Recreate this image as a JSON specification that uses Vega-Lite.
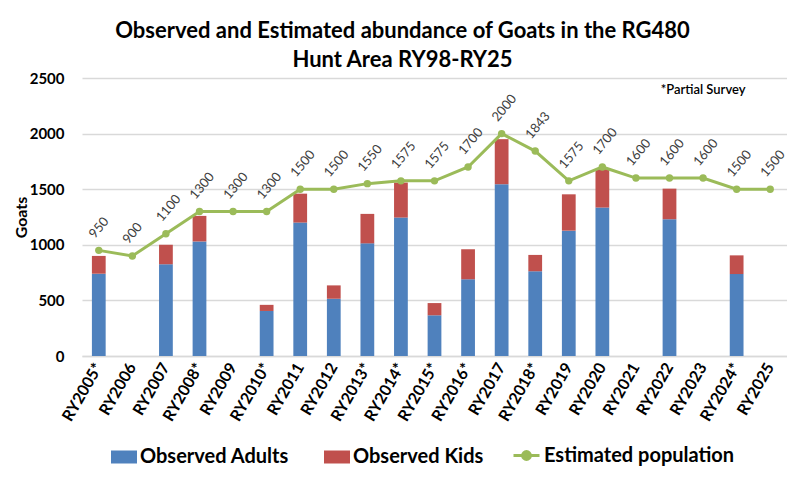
{
  "$schema": "https://vega.github.io/schema/vega-lite/v6.json",
  "width": 705,
  "height": 278,
  "autosize": {"type": "none"},
  "padding": {"left": 82, "top": 78, "right": 0, "bottom": 126},
  "background": "white",
  "config": {
    "font": "Lato",
    "view": {"stroke": null}
  },
  "title": {
    "text": ["Observed and Estimated abundance of Goats in the RG480", "Hunt Area RY98-RY25"],
    "font": "Lato",
    "fontSize": 22,
    "fontWeight": "bold",
    "color": "#000000",
    "lineHeight": 29,
    "anchor": "middle",
    "dx": -32,
    "dy": 6,
    "offset": 5
  },
  "data": {
    "values": [
      {"year": "RY2005*", "Observed Adults": 740, "Observed Kids": 160, "est": 950},
      {"year": "RY2006", "Observed Adults": null, "Observed Kids": null, "est": 900},
      {"year": "RY2007", "Observed Adults": 825, "Observed Kids": 175, "est": 1100},
      {"year": "RY2008*", "Observed Adults": 1030, "Observed Kids": 230, "est": 1300},
      {"year": "RY2009", "Observed Adults": null, "Observed Kids": null, "est": 1300},
      {"year": "RY2010*", "Observed Adults": 405, "Observed Kids": 55, "est": 1300},
      {"year": "RY2011", "Observed Adults": 1200, "Observed Kids": 260, "est": 1500},
      {"year": "RY2012", "Observed Adults": 515, "Observed Kids": 120, "est": 1500},
      {"year": "RY2013*", "Observed Adults": 1013, "Observed Kids": 265, "est": 1550},
      {"year": "RY2014*", "Observed Adults": 1245, "Observed Kids": 315, "est": 1575},
      {"year": "RY2015*", "Observed Adults": 366, "Observed Kids": 110, "est": 1575},
      {"year": "RY2016*", "Observed Adults": 690, "Observed Kids": 270, "est": 1700},
      {"year": "RY2017", "Observed Adults": 1545, "Observed Kids": 405, "est": 2000},
      {"year": "RY2018*", "Observed Adults": 762, "Observed Kids": 147, "est": 1843},
      {"year": "RY2019", "Observed Adults": 1127, "Observed Kids": 327, "est": 1575},
      {"year": "RY2020", "Observed Adults": 1335, "Observed Kids": 345, "est": 1700},
      {"year": "RY2021", "Observed Adults": null, "Observed Kids": null, "est": 1600},
      {"year": "RY2022", "Observed Adults": 1230, "Observed Kids": 275, "est": 1600},
      {"year": "RY2023", "Observed Adults": null, "Observed Kids": null, "est": 1600},
      {"year": "RY2024*", "Observed Adults": 737, "Observed Kids": 168, "est": 1500},
      {"year": "RY2025", "Observed Adults": null, "Observed Kids": null, "est": 1500}
    ]
  },
  "encoding": {
    "x": {
      "field": "year",
      "type": "nominal",
      "sort": null,
      "scale": {
        "domain": ["RY2005*", "RY2006", "RY2007", "RY2008*", "RY2009", "RY2010*", "RY2011", "RY2012", "RY2013*", "RY2014*", "RY2015*", "RY2016*", "RY2017", "RY2018*", "RY2019", "RY2020", "RY2021", "RY2022", "RY2023", "RY2024*", "RY2025"],
        "paddingInner": 0.59,
        "paddingOuter": 0.295
      },
      "axis": {
        "title": null,
        "labelAngle": -60,
        "labelFont": "Lato",
        "labelFontSize": 16,
        "labelFontWeight": "bold",
        "labelColor": "#000000",
        "labelPadding": 8,
        "ticks": false,
        "domainColor": "#D9D9D9",
        "domainWidth": 1.5,
        "grid": false
      }
    }
  },
  "layer": [
    {
      "transform": [{"fold": ["Observed Adults", "Observed Kids"], "as": ["series", "value"]}],
      "mark": {"type": "bar"},
      "encoding": {
        "y": {
          "field": "value",
          "type": "quantitative",
          "stack": "zero",
          "scale": {"domain": [0, 2500], "nice": false, "zero": true},
          "axis": {
            "title": "Goats",
            "titleFont": "Lato",
            "titleFontSize": 16,
            "titleFontWeight": "bold",
            "titleColor": "#000000",
            "titlePadding": 0,
            "values": [0, 500, 1000, 1500, 2000, 2500],
            "format": "d",
            "labelFont": "Lato",
            "labelFontSize": 15,
            "labelFontWeight": "bold",
            "labelColor": "#000000",
            "labelPadding": 18,
            "ticks": false,
            "domain": false,
            "gridColor": "#D9D9D9",
            "gridWidth": 1.5
          }
        },
        "color": {
          "field": "series",
          "type": "nominal",
          "scale": {
            "domain": ["Observed Adults", "Observed Kids"],
            "range": ["#4F81BD", "#C0504D"]
          },
          "legend": {
            "title": null,
            "orient": "none",
            "direction": "horizontal",
            "legendX": 29,
            "legendY": 366,
            "labelFont": "Lato",
            "labelFontSize": 20,
            "labelFontWeight": "bold",
            "labelColor": "#000000",
            "labelLimit": 400,
            "labelOffset": 3,
            "columnPadding": 35,
            "symbolSize": 676,
            "encode": {
              "symbols": {
                "update": {
                  "shape": {"value": "M-1,-0.5H1V0.5H-1Z"},
                  "strokeWidth": {"value": 0},
                  "fillOpacity": {"value": 1},
                  "opacity": {"value": 1}
                }
              }
            }
          }
        },
        "order": {"field": "series", "sort": "ascending"}
      }
    },
    {
      "mark": {"type": "line", "strokeWidth": 3},
      "encoding": {
        "y": {"field": "est", "type": "quantitative"},
        "stroke": {
          "datum": "Estimated population",
          "scale": {"range": ["#9BBB59"]},
          "legend": {
            "title": null,
            "orient": "none",
            "legendX": 430,
            "legendY": 363,
            "labelFont": "Lato",
            "labelFontSize": 20,
            "labelFontWeight": "bold",
            "labelColor": "#000000",
            "labelLimit": 400,
            "labelOffset": 3,
            "symbolSize": 676,
            "encode": {
              "symbols": {
                "update": {
                  "shape": {"value": "M-1,0H1M-0.3,0A0.3,0.3,0,1,1,0.3,0A0.3,0.3,0,1,1,-0.3,0"},
                  "fill": {"value": "#9BBB59"},
                  "stroke": {"value": "#9BBB59"},
                  "strokeWidth": {"value": 3},
                  "fillOpacity": {"value": 1},
                  "opacity": {"value": 1}
                }
              }
            }
          }
        }
      }
    },
    {
      "mark": {"type": "point", "filled": true, "size": 55, "opacity": 1, "color": "#9BBB59"},
      "encoding": {
        "y": {"field": "est", "type": "quantitative"}
      }
    },
    {
      "mark": {"type": "text", "angle": -50, "align": "left", "baseline": "middle", "xOffset": -7, "yOffset": -14, "font": "Lato", "fontSize": 13, "color": "#404040"},
      "encoding": {
        "y": {"field": "est", "type": "quantitative"},
        "text": {"field": "est", "type": "quantitative"}
      }
    },
    {
      "data": {"values": [{"year": "RY2023", "y": 2390, "note": "*Partial Survey"}]},
      "mark": {"type": "text", "align": "center", "baseline": "middle", "font": "Lato", "fontSize": 13, "fontWeight": 600, "color": "#000000"},
      "encoding": {
        "y": {"field": "y", "type": "quantitative"},
        "text": {"field": "note"}
      }
    }
  ]
}
